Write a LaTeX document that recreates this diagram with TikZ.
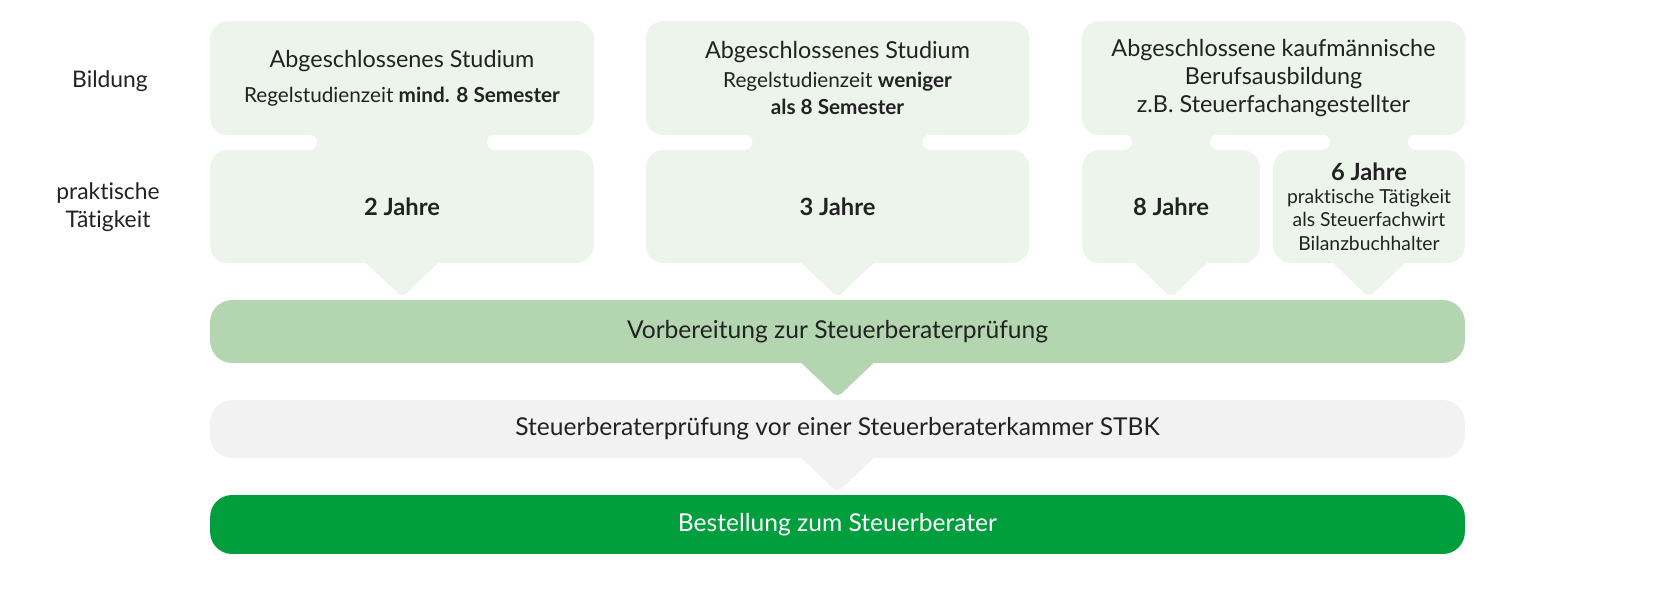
\documentclass[tikz,border=0pt]{standalone}
\usepackage{fontspec}
\setmainfont{Lato}[Ligatures=NoCommon]
\usetikzlibrary{positioning}
\definecolor{boxgreen}{HTML}{EDF4EC}
\definecolor{prepgreen}{HTML}{B3D6B1}
\definecolor{examgray}{HTML}{F2F2F2}
\definecolor{finalgreen}{HTML}{009E3D}
\definecolor{txt}{HTML}{222222}
\tikzset{
    boxg/.style = {rectangle, rounded corners=0.36cm, fill=boxgreen, inner sep=0pt, align=center, text=txt, font=\fontsize{13.3}{15.6}\selectfont},
    barprep/.style = {rectangle, rounded corners=0.44cm, fill=prepgreen, inner sep=0pt, align=center, text=txt, minimum width=25.1cm, font=\fontsize{14}{17}\selectfont},
    barexam/.style = {rectangle, rounded corners=0.44cm, fill=examgray, inner sep=0pt, align=center, text=txt, minimum width=25.1cm, font=\fontsize{14}{17}\selectfont},
    barfinal/.style = {rectangle, rounded corners=0.44cm, fill=finalgreen, inner sep=0pt, align=center, text=white, minimum width=25.1cm, font=\fontsize{14}{17}\selectfont},
    lbl/.style = {align=center, text=txt, inner sep=0pt, font=\fontsize{13}{16}\selectfont},
    years/.style = {font=\fontsize{13.5}{16}\selectfont\bfseries}
}
\newcommand{\titl}{\fontsize{13.3}{16}\selectfont}
\newcommand{\subl}{\fontsize{11.8}{15}\selectfont}
\newcommand{\smal}{\fontsize{11}{13.2}\selectfont}

\begin{document}
\begin{tikzpicture}[x=0.02cm, y=0.02cm]
  \useasboundingbox (0,0) rectangle (1654,-591);
  % row labels
  \node[lbl] (lblbild) at (110,-81) {Bildung};
  \node[lbl] (lblprax) at (108,-207) {praktische\\[0pt]Tätigkeit};
  % Bildung
  \node[boxg, minimum width=7.68cm, minimum height=2.28cm] (bild1) at (402,-78)
    {{\titl Abgeschlossenes Studium}\\[4.5pt]
     {\subl Regelstudienzeit \textbf{mind. 8 Semester}}};
  \node[boxg, minimum width=7.68cm, minimum height=2.28cm] (bild2) at (837.5,-78)
    {{\titl Abgeschlossenes Studium}\\[0.8pt]
     {\subl Regelstudienzeit \textbf{weniger}}\\[-0.6pt]
     {\subl\bfseries als 8 Semester}};
  \node[boxg, minimum width=7.68cm, minimum height=2.28cm] (bild3) at (1273.5,-78)
    {{\titl Abgeschlossene kaufmännische}\\[0pt]
     {\titl Berufsausbildung}\\[0.5pt]
     {\titl z.B. Steuerfachangestellter}};
  % praktische Taetigkeit
  \node[boxg, years, minimum width=7.68cm, minimum height=2.26cm] (prax1) at (402,-206.5) {2 Jahre};
  \node[boxg, years, minimum width=7.68cm, minimum height=2.26cm] (prax2) at (837.5,-206.5) {3 Jahre};
  \node[boxg, years, minimum width=3.56cm, minimum height=2.26cm] (prax3a) at (1171,-206.5) {8 Jahre};
  \node[boxg, font=\smal, minimum width=3.84cm, minimum height=2.26cm] (prax3b) at (1369,-206.5)
    {{\fontsize{13.5}{16}\selectfont\bfseries 6 Jahre}\\[0pt]
     {\smal praktische Tätigkeit}\\[0pt]
     {\smal als Steuerfachwirt}\\[0pt]
     {\smal Bilanzbuchhalter}};
  % bars
  \node[barprep, minimum height=1.26cm] (vorb) at (837.5,-331.5) {Vorbereitung zur Steuerberaterprüfung};
  \node[barexam, minimum height=1.16cm] (pruef) at (837.5,-429) {Steuerberaterprüfung vor einer Steuerberaterkammer STBK};
  \node[barfinal, minimum height=1.18cm] (best) at (837.5,-524.5) {Bestellung zum Steuerberater};
  % necks between Bildung and praktische Taetigkeit
  \foreach \n/\w in {prax1/85, prax2/85, prax3a/39, prax3b/39} {
    \fill[boxgreen] ([shift={(-\w-7.5,-1)}]\n.north) rectangle ([shift={(\w+7.5,16)}]\n.north);
    \fill[white] ([shift={(-\w-7.5,7.5)}]\n.north) circle[radius=7.5];
    \fill[white] ([shift={(\w+7.5,7.5)}]\n.north) circle[radius=7.5];
  }
  % pointers
  \foreach \n/\c in {prax1/boxgreen, prax2/boxgreen, prax3a/boxgreen, prax3b/boxgreen, vorb/prepgreen, pruef/examgray} {
    \fill[\c, rounded corners=3pt] ([shift={(-42,6)}]\n.south) -- ++(42,-40) -- ++(42,40) -- cycle;
  }
\end{tikzpicture}
\end{document}
